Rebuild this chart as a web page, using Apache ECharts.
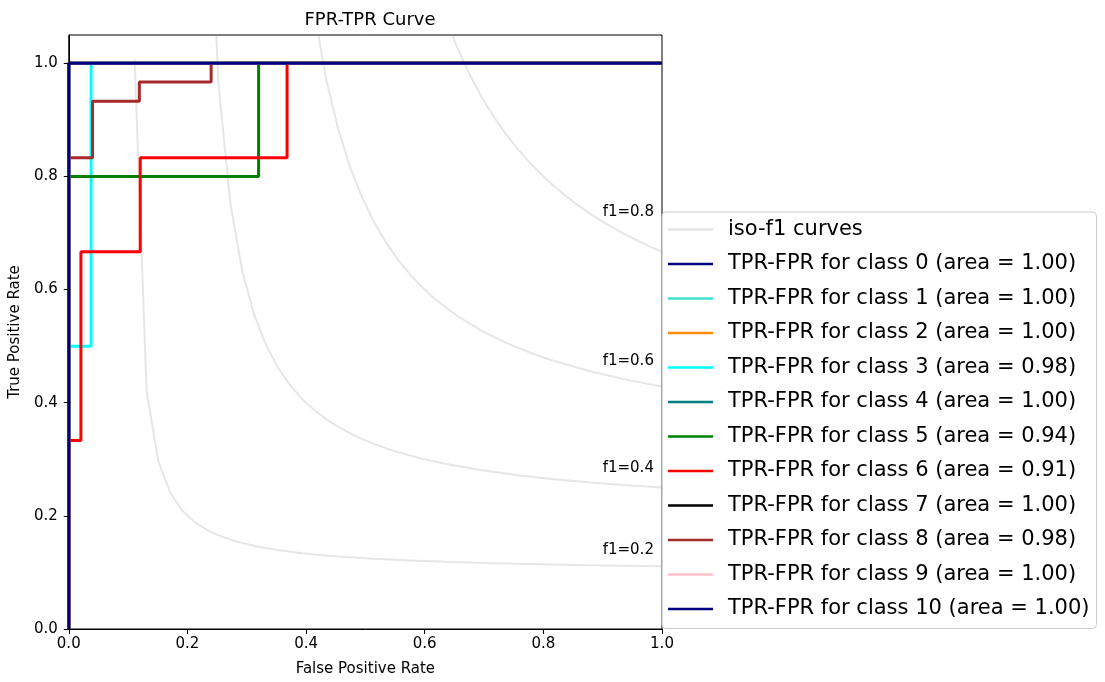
<!DOCTYPE html>
<html>
<head>
<meta charset="utf-8">
<script src="https://cdn.jsdelivr.net/npm/echarts@6/dist/echarts.min.js"></script>
<style>html,body{margin:0;padding:0;background:#fff;}#chart{width:1105px;height:682px;}</style>
</head>
<body>
<div id="chart"></div>
<script>
// ---- data ----
const tickValues = [0, 0.2, 0.4, 0.6, 0.8, 1.0];

const isoF1Curve02 = [[0.1110,1.0074],[0.1312,0.4203],[0.1514,0.2944],[0.1716,0.2396],[0.1918,0.2089],[0.2120,0.1893],[0.2322,0.1756],[0.2524,0.1656],[0.2727,0.1579],[0.2929,0.1519],[0.3131,0.1469],[0.3333,0.1429],[0.3535,0.1395],[0.3737,0.1365],[0.3939,0.1340],[0.4141,0.1318],[0.4545,0.1282],[0.5151,0.1241],[0.5757,0.1210],[0.6363,0.1187],[0.6969,0.1168],[0.7576,0.1152],[0.8182,0.1139],[0.8788,0.1128],[0.9394,0.1119],[1.0,0.1111]];
const isoF1Curve04 = [[0.2322,1.4405],[0.2524,0.9627],[0.2727,0.7506],[0.2929,0.6308],[0.3131,0.5538],[0.3333,0.5002],[0.3535,0.4606],[0.3737,0.4303],[0.3939,0.4063],[0.4141,0.3869],[0.4343,0.3707],[0.4545,0.3572],[0.4747,0.3456],[0.4949,0.3356],[0.5151,0.3269],[0.5353,0.3193],[0.5555,0.3125],[0.5757,0.3065],[0.5959,0.3010],[0.6363,0.2917],[0.6969,0.2805],[0.7576,0.2717],[0.8182,0.2647],[0.8788,0.2589],[0.9394,0.2541],[1.0,0.25]];
const isoF1Curve06 = [[0.4141,1.0889],[0.4343,0.9702],[0.4545,0.8826],[0.4747,0.8152],[0.4949,0.7618],[0.5151,0.7184],[0.5353,0.6825],[0.5555,0.6522],[0.5757,0.6264],[0.5959,0.6041],[0.6161,0.5847],[0.6363,0.5676],[0.6565,0.5524],[0.6969,0.5267],[0.7373,0.5058],[0.7778,0.4884],[0.8182,0.4737],[0.8788,0.4555],[0.9394,0.4408],[1.0,0.4286]];
const isoF1Curve08 = [[0.6363,1.0770],[0.6565,1.0237],[0.6767,0.9782],[0.6969,0.9388],[0.7171,0.9045],[0.7373,0.8743],[0.7576,0.8475],[0.7778,0.8236],[0.7980,0.8021],[0.8182,0.7826],[0.8384,0.7650],[0.8586,0.7489],[0.8788,0.7342],[0.8990,0.7207],[0.9192,0.7082],[0.9394,0.6966],[0.9596,0.6859],[0.9798,0.6760],[1.0,0.6667]];

const f1LabelTexts = ['f1=0.2', 'f1=0.4', 'f1=0.6', 'f1=0.8'];
const f1LabelX = [0.9, 0.9, 0.9, 0.9];
const f1LabelY = [0.1322, 0.2756, 0.4654, 0.7282];

const classNames = [
  'TPR-FPR for class 0 (area = 1.00)',
  'TPR-FPR for class 1 (area = 1.00)',
  'TPR-FPR for class 2 (area = 1.00)',
  'TPR-FPR for class 3 (area = 0.98)',
  'TPR-FPR for class 4 (area = 1.00)',
  'TPR-FPR for class 5 (area = 0.94)',
  'TPR-FPR for class 6 (area = 0.91)',
  'TPR-FPR for class 7 (area = 1.00)',
  'TPR-FPR for class 8 (area = 0.98)',
  'TPR-FPR for class 9 (area = 1.00)',
  'TPR-FPR for class 10 (area = 1.00)'
];
const classColors = ['#000080','#40E0D0','#FF8C00','#00FFFF','#008080','#008000','#FF0000','#000000','#A52A2A','#FFC0CB','#000080'];

const class0 = [[0,0],[0,1],[1,1]];
const class1 = [[0,0],[0,1],[1,1]];
const class2 = [[0,0],[0,1],[1,1]];
const class3 = [[0,0],[0,0.5],[0.0376,0.5],[0.0376,1],[1,1]];
const class4 = [[0,0],[0,1],[1,1]];
const class5 = [[0,0],[0,0.8],[0.32,0.8],[0.32,1],[1,1]];
const class6 = [[0,0],[0,0.333],[0.0205,0.333],[0.0205,0.667],[0.1205,0.667],[0.1205,0.833],[0.368,0.833],[0.368,1],[1,1]];
const class7 = [[0,0],[0,1],[1,1]];
const class8 = [[0,0],[0,0.833],[0.0401,0.833],[0.0401,0.933],[0.119,0.933],[0.119,0.967],[0.24,0.967],[0.24,1],[1,1]];
const class9 = [[0,0],[0,1],[1,1]];
const class10 = [[0,0],[0,1],[1,1]];
const classData = [class0,class1,class2,class3,class4,class5,class6,class7,class8,class9,class10];

// ---- chart ----
const FONT = 'DejaVu Sans';
const isoColor = 'rgba(128,128,128,0.2)';
const series = [];
[isoF1Curve02, isoF1Curve04, isoF1Curve06, isoF1Curve08].forEach(function (d) {
  series.push({
    name: 'iso-f1 curves', type: 'line', data: d, symbol: 'none',
    lineStyle: { color: isoColor, width: 2 }, itemStyle: { color: isoColor },
    clip: true, silent: true, z: 1
  });
});
series.push({
  name: 'f1 labels', type: 'scatter', symbolSize: 0, silent: true, z: 3,
  itemStyle: { color: '#000' },
  data: f1LabelTexts.map(function (t, i) { return { value: [f1LabelX[i], f1LabelY[i]], name: t }; }),
  label: {
    show: true, position: [0, 0], align: 'left', verticalAlign: 'bottom', offset: [0, 3],
    formatter: function (p) { return p.name; },
    fontFamily: FONT, fontSize: 15, color: '#000', opacity: 1
  }
});
classData.forEach(function (d, i) {
  series.push({
    name: classNames[i], type: 'line', data: d, symbol: 'none', clip: true,
    lineStyle: { color: classColors[i], width: 3 }, itemStyle: { color: classColors[i] },
    z: 2 + i * 0.01
  });
});

const chart = echarts.init(document.getElementById('chart'), null, { renderer: 'canvas' });
chart.setOption({
  animation: false,
  backgroundColor: '#fff',
  title: {
    text: 'FPR-TPR Curve', left: 365, top: 6, textAlign: 'center',
    textStyle: { fontFamily: FONT, fontSize: 18, fontWeight: 'normal', color: '#000' }
  },
  grid: { left: 68.5, right: 443, top: 35, bottom: 51.7, show: true, borderColor: '#000', borderWidth: 1, backgroundColor: 'transparent' },
  xAxis: {
    type: 'value', min: 0, max: 1, interval: 0.2,
    name: 'False Positive Rate', nameLocation: 'middle', nameGap: 33,
    nameTextStyle: { fontFamily: FONT, fontSize: 15, color: '#000' },
    axisLine: { show: true, lineStyle: { color: '#000', width: 1 } },
    axisTick: { show: true, length: 5, lineStyle: { color: '#000' } },
    axisLabel: { fontFamily: FONT, fontSize: 15, color: '#000', margin: 8, formatter: function (v) { return v.toFixed(1); } },
    splitLine: { show: false }, z: 5
  },
  yAxis: {
    type: 'value', min: 0, max: 1.05,
    name: 'True Positive Rate', nameLocation: 'middle', nameGap: 40,
    nameTextStyle: { fontFamily: FONT, fontSize: 15, color: '#000' },
    axisLine: { show: true, lineStyle: { color: '#000', width: 1 } },
    axisTick: { show: true, length: 5, lineStyle: { color: '#000' }, customValues: tickValues },
    axisLabel: { fontFamily: FONT, fontSize: 15, color: '#000', margin: 11, customValues: tickValues, formatter: function (v) { return v.toFixed(1); } },
    splitLine: { show: false }, z: 5
  },
  legend: {
    orient: 'vertical', left: 662, top: 212,
    data: ['iso-f1 curves'].concat(classNames),
    icon: 'rect', itemWidth: 45, itemHeight: 2.5, itemGap: 13.5,
    padding: [7, 7, 9, 6],
    backgroundColor: 'rgba(255,255,255,0.8)', borderColor: '#cccccc', borderWidth: 1, borderRadius: 4,
    selectedMode: false,
    textStyle: { fontFamily: FONT, fontSize: 21, color: '#000', lineHeight: 21, padding: [0, 0, 0, 10] }
  },
  series: series
});
</script>
</body>
</html>
